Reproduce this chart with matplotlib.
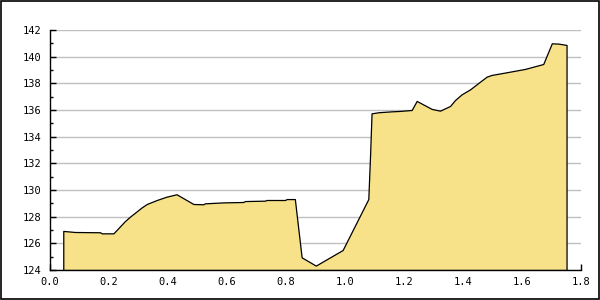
import matplotlib
matplotlib.use("Agg")
import matplotlib.pyplot as plt
from matplotlib.patches import Rectangle
from matplotlib.ticker import MultipleLocator

# =========================
# Data
# =========================

x_vals = [0.045, 0.085, 0.17, 0.175, 0.215, 0.254, 0.271, 0.311, 0.328,
          0.362, 0.395, 0.429, 0.486, 0.52, 0.525, 0.588, 0.655, 0.661,
          0.729, 0.734, 0.797, 0.802, 0.83, 0.853, 0.901, 0.992, 1.079,
          1.085, 1.09, 1.113, 1.158, 1.186, 1.226, 1.243, 1.294, 1.322,
          1.356, 1.373, 1.395, 1.424, 1.458, 1.48, 1.497, 1.548, 1.61,
          1.672, 1.701, 1.723, 1.751]
y_vals = [126.93, 126.85, 126.83, 126.75, 126.75, 127.67, 128.0, 128.7, 128.95,
          129.25, 129.5, 129.68, 128.95, 128.93, 129.0, 129.07, 129.1, 129.17,
          129.2, 129.25, 129.25, 129.32, 129.32, 124.95, 124.33, 125.5, 129.32,
          132.63, 135.75, 135.83, 135.9, 135.93, 136.0, 136.68, 136.08, 135.95,
          136.3, 136.75, 137.17, 137.55, 138.13, 138.5, 138.63, 138.83, 139.08,
          139.45, 141.0, 140.98, 140.88]

y_min, y_max = 124, 142
x_min, x_max = 0.0, 1.8

# =========================
# Plot
# =========================

fig = plt.figure(figsize=(6, 3), dpi=100)
ax = fig.add_axes([50 / 600, 30 / 300, 531 / 600, 240 / 300])

ax.fill_between(x_vals, y_vals, y_min, facecolor="#f7e28a",
                edgecolor="black", linewidth=0.9, zorder=2)

ax.set_xlim(x_min, x_max)
ax.set_ylim(y_min, y_max)

ax.xaxis.set_major_locator(MultipleLocator(0.2))
ax.yaxis.set_major_locator(MultipleLocator(2))
ax.yaxis.set_minor_locator(MultipleLocator(1))
ax.xaxis.set_major_formatter(plt.FuncFormatter(lambda v, p: f"{v:.1f}"))

ax.grid(axis="y", which="major", color="#c0c0c0", linewidth=1, zorder=1)

for side in ["top", "right"]:
  ax.spines[side].set_visible(False)
for side in ["left", "bottom"]:
  ax.spines[side].set_linewidth(1)
  ax.spines[side].set_zorder(3)

ax.tick_params(axis="both", which="major", direction="in", length=4,
               width=1, labelsize=7.5, colors="black")
ax.tick_params(axis="y", which="minor", direction="in", length=2.5, width=1)
ax.tick_params(axis="y", which="major", pad=6)
ax.tick_params(axis="x", which="major", pad=5)

for lbl in ax.get_xticklabels() + ax.get_yticklabels():
  lbl.set_fontfamily("DejaVu Sans Mono")

# outer frame around the whole image
fig.patches.append(Rectangle((0.001, 0.002), 0.997, 0.995,
                             transform=fig.transFigure, fill=False,
                             edgecolor="black", linewidth=1.2))

fig.savefig("out.png", dpi=100)
